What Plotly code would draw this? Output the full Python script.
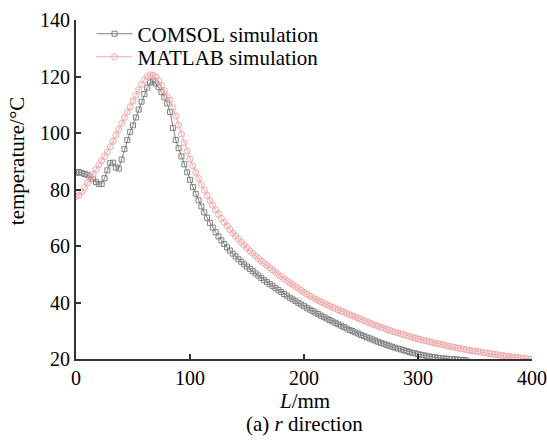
import plotly.graph_objects as go

# Sampling step along L (mm) for both simulations
L_STEP = 2.5

# COMSOL simulation temperature (°C), L = 0, 2.5, 5, ...
t_comsol = [
    85.8, 86.2, 85.9, 85.5, 85.2, 84.6, 83.6, 82.6, 81.9, 82.0,
    84.0, 86.8, 89.3, 89.5, 87.8, 87.4, 90.6, 94.3, 97.5, 100.4,
    102.7, 105.5, 108.3, 111.1, 113.8, 116.1, 117.9, 118.3, 117.5, 116.2,
    114.5, 112.6, 110.5, 107.4, 101.8, 97.5, 94.6, 91.7, 88.9, 86.1,
    83.4, 80.9, 78.5, 76.2, 74.0, 71.9, 70.0, 68.2, 66.5, 64.9,
    63.4, 62.0, 60.7, 59.5, 58.4, 57.3, 56.3, 55.3, 54.4, 53.5,
    52.7, 51.9, 51.1, 50.3, 49.5, 48.7, 47.9, 47.2, 46.5, 45.8,
    45.1, 44.4, 43.7, 43.0, 42.4, 41.7, 41.1, 40.5, 39.9, 39.3,
    38.7, 38.1, 37.5, 37.0, 36.4, 35.9, 35.3, 34.8, 34.3, 33.8,
    33.3, 32.8, 32.3, 31.8, 31.3, 30.8, 30.3, 29.9, 29.4, 29.0,
    28.5, 28.1, 27.7, 27.3, 26.9, 26.5, 26.1, 25.7, 25.4, 25.0,
    24.7, 24.3, 24.0, 23.7, 23.4, 23.1, 22.8, 22.5, 22.2, 22.0,
    21.7, 21.5, 21.3, 21.1, 20.9, 20.7, 20.6, 20.4, 20.3, 20.2,
    20.1, 20.0, 20.0, 19.9, 19.8, 19.7, 19.6, 19.5,
]

# MATLAB simulation temperature (°C), L = 0, 2.5, 5, ... 400
t_matlab = [
    77.5, 77.9, 79.1, 80.7, 82.3, 83.9, 85.5, 87.1, 88.7, 90.2,
    91.7, 93.2, 95.1, 97.1, 99.2, 101.3, 103.4, 105.4, 107.3, 109.3,
    111.3, 113.3, 115.3, 117.2, 118.8, 120.0, 120.6, 120.5, 119.8, 118.5,
    116.9, 115.0, 112.9, 111.6, 109.0, 106.0, 102.8, 99.6, 96.5, 93.6,
    90.8, 88.4, 86.1, 83.9, 81.8, 79.8, 77.9, 76.1, 74.4, 72.8,
    71.3, 69.8, 68.4, 67.1, 65.8, 64.6, 63.5, 62.4, 61.3, 60.3,
    59.3, 58.3, 57.4, 56.5, 55.6, 54.7, 53.9, 53.1, 52.3, 51.5,
    50.7, 49.9, 49.2, 48.4, 47.7, 47.0, 46.3, 45.6, 45.0, 44.3,
    43.6, 43.0, 42.4, 41.8, 41.2, 40.7, 40.2, 39.7, 39.2, 38.8,
    38.3, 37.9, 37.4, 37.0, 36.6, 36.1, 35.7, 35.3, 34.9, 34.5,
    34.1, 33.6, 33.2, 32.8, 32.4, 32.0, 31.6, 31.2, 30.9, 30.5,
    30.2, 29.8, 29.5, 29.2, 28.9, 28.6, 28.3, 28.0, 27.7, 27.4,
    27.1, 26.9, 26.6, 26.4, 26.1, 25.9, 25.6, 25.4, 25.2, 25.0,
    24.7, 24.5, 24.3, 24.1, 23.9, 23.7, 23.5, 23.3, 23.1, 22.9,
    22.8, 22.6, 22.4, 22.3, 22.1, 21.9, 21.8, 21.6, 21.5, 21.3,
    21.2, 21.0, 20.9, 20.8, 20.6, 20.5, 20.4, 20.3, 20.1, 20.0,
    19.9,
]

x_ticks = [0, 100, 200, 300, 400]
y_ticks = [20, 40, 60, 80, 100, 120, 140]

l_comsol = [i * L_STEP for i in range(len(t_comsol))]
l_matlab = [i * L_STEP for i in range(len(t_matlab))]

FONT = "Liberation Serif"
GRAY = "#808080"
PINK = "#f2a6a6"

fig = go.Figure()
fig.add_trace(go.Scatter(
    x=l_comsol, y=t_comsol, name="COMSOL simulation",
    mode="lines+markers", legend="legend", showlegend=True,
    line=dict(color=GRAY, width=1),
    marker=dict(symbol="square-open", size=5, color=GRAY, line=dict(width=1, color=GRAY)),
))
fig.add_trace(go.Scatter(
    x=l_matlab, y=t_matlab, name="MATLAB simulation",
    mode="lines+markers", legend="legend2", showlegend=True,
    line=dict(color=PINK, width=1),
    marker=dict(symbol="circle-open", size=6, color=PINK, line=dict(width=1, color=PINK)),
))

axis_common = dict(
    showline=True, linecolor="#333333", linewidth=2,
    ticks="inside", ticklen=5, tickwidth=1.5, tickcolor="#333333",
    showgrid=False, zeroline=False, mirror=False, automargin=False,
    tickfont=dict(family=FONT, size=20, color="black"),
)

fig.update_xaxes(range=[0, 400], tickvals=x_ticks, **axis_common)
fig.update_yaxes(range=[20, 140], tickvals=y_ticks, **axis_common)

legend_common = dict(
    xanchor="left", yanchor="top", itemwidth=36,
    bgcolor="rgba(0,0,0,0)",
    font=dict(family=FONT, size=21, color="black"),
)

fig.update_layout(
    width=547, height=441,
    margin=dict(l=76, r=15, t=20, b=82),
    plot_bgcolor="white", paper_bgcolor="white",
    showlegend=True,
    font=dict(family=FONT, size=21, color="black"),
    legend=dict(x=0.034, y=1.019, **legend_common),
    legend2=dict(x=0.034, y=0.951, **legend_common),
    annotations=[
        dict(text="temperature/°C", textangle=-90, xref="paper", yref="paper",
             x=-0.129, y=0.584, xanchor="center", yanchor="middle",
             showarrow=False, font=dict(family=FONT, size=21, color="black")),
        dict(text="<i>L</i>/mm", xref="paper", yref="paper",
             x=0.5, y=-0.124, xanchor="center", yanchor="middle",
             showarrow=False, font=dict(family=FONT, size=21, color="black")),
        dict(text="(a) <i>r</i> direction", xref="paper", yref="paper",
             x=0.5, y=-0.192, xanchor="center", yanchor="middle",
             showarrow=False, font=dict(family=FONT, size=21, color="black")),
    ],
)

fig.write_html("out.html")
